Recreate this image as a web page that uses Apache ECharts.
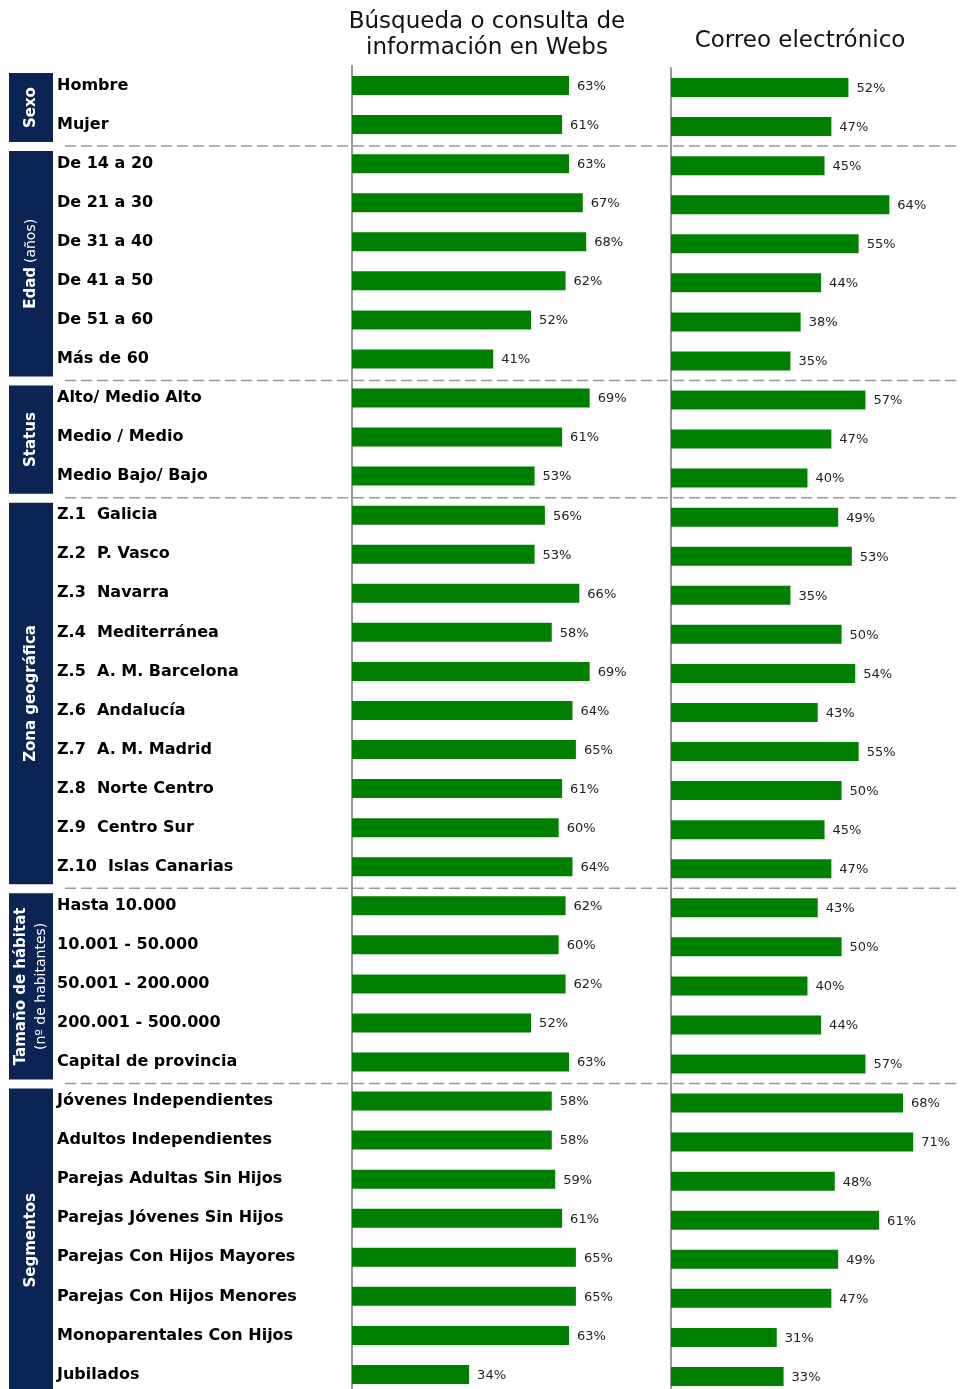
<!DOCTYPE html>
<html>
<head>
<meta charset="utf-8">
<title>Búsqueda y correo</title>
<script src="https://cdn.jsdelivr.net/npm/echarts@6/dist/echarts.min.js"></script>
<style>
  html, body { margin: 0; padding: 0; background: #fff; }
  #main { width: 961px; height: 1389px; }
</style>
</head>
<body>
<div id="main"></div>
<script>
// categorias (de arriba a abajo)
var categories = [
  'Hombre', 'Mujer',
  'De 14 a 20', 'De 21 a 30', 'De 31 a 40', 'De 41 a 50', 'De 51 a 60', 'Más de 60',
  'Alto/ Medio Alto', 'Medio / Medio', 'Medio Bajo/ Bajo',
  'Z.1  Galicia', 'Z.2  P. Vasco', 'Z.3  Navarra', 'Z.4  Mediterránea', 'Z.5  A. M. Barcelona',
  'Z.6  Andalucía', 'Z.7  A. M. Madrid', 'Z.8  Norte Centro', 'Z.9  Centro Sur', 'Z.10  Islas Canarias',
  'Hasta 10.000', '10.001 - 50.000', '50.001 - 200.000', '200.001 - 500.000', 'Capital de provincia',
  'Jóvenes Independientes', 'Adultos Independientes', 'Parejas Adultas Sin Hijos', 'Parejas Jóvenes Sin Hijos',
  'Parejas Con Hijos Mayores', 'Parejas Con Hijos Menores', 'Monoparentales Con Hijos', 'Jubilados'
];

var busqueda = [63, 61, 63, 67, 68, 62, 52, 41, 69, 61, 53, 56, 53, 66, 58, 69, 64, 65, 61, 60, 64,
                62, 60, 62, 52, 63, 58, 58, 59, 61, 65, 65, 63, 34];
var correo = [52, 47, 45, 64, 55, 44, 38, 35, 57, 47, 40, 49, 53, 35, 50, 54, 43, 55, 50, 45, 47,
              43, 50, 40, 44, 57, 68, 71, 48, 61, 49, 47, 31, 33];

// grupos: nombre (texto rico) y numero de filas
var groupNames = ['{b|Sexo}', '{b|Edad} {n|(años)}', '{b|Status}', '{b|Zona geográfica}',
                  '{b|Tamaño de hábitat}\n{n|(nº de habitantes)}', '{b|Segmentos}'];
var groupSizes = [2, 6, 3, 10, 5, 8];

var titles = ['Búsqueda o consulta de\ninformación en Webs', 'Correo electrónico'];

var myChart = echarts.init(document.getElementById('main'));

var labelStyle = {
  show: true,
  position: 'right',
  distance: 8,
  offset: [0, 1],
  formatter: '{c}%',
  color: '#222',
  fontFamily: 'DejaVu Sans',
  fontSize: 13
};

var titleText = { fontFamily: 'DejaVu Sans', fontSize: 23, fontWeight: 'normal', color: '#111', lineHeight: 26 };

option = {
  backgroundColor: '#fff',
  animation: false,
  title: [
    { text: titles[0], left: 487, top: 9, padding: 0, textAlign: 'center', textStyle: titleText },
    { text: titles[1], left: 800, top: 28, padding: 0, textAlign: 'center', textStyle: titleText }
  ],
  grid: [
    { left: 352, top: 66, width: 310, height: 1328, outerBoundsMode: 'none' },
    { left: 671, top: 68, width: 290, height: 1328, outerBoundsMode: 'none' }
  ],
  xAxis: [
    { gridIndex: 0, type: 'value', min: 0, max: 90, show: false },
    { gridIndex: 1, type: 'value', min: 0, max: 85, show: false }
  ],
  yAxis: [
    {
      gridIndex: 0, type: 'category', data: categories, inverse: true,
      axisLine: { lineStyle: { color: '#999', width: 2 } },
      axisTick: { show: false },
      axisLabel: {
        align: 'left', margin: 295, color: '#000', padding: [4, 0, 0, 0],
        fontFamily: 'DejaVu Sans', fontWeight: 'bold', fontSize: 16
      }
    },
    {
      gridIndex: 1, type: 'category', data: categories, inverse: true,
      axisLine: { lineStyle: { color: '#999', width: 2 } },
      axisTick: { show: false },
      axisLabel: { show: false }
    }
  ],
  series: [
    {
      name: 'Búsqueda', type: 'bar', xAxisIndex: 0, yAxisIndex: 0,
      data: busqueda, barWidth: 19,
      itemStyle: { color: '#008000' },
      label: labelStyle
    },
    {
      name: 'Correo', type: 'bar', xAxisIndex: 1, yAxisIndex: 1,
      data: correo, barWidth: 19,
      itemStyle: { color: '#008000' },
      label: labelStyle
    }
  ]
};
myChart.setOption(option);

// bloques de grupo y separadores, a partir de la escala del eje
var centers = categories.map(function (c) {
  return myChart.convertToPixel({ yAxisIndex: 0 }, c);
});
var step = centers[1] - centers[0];
var graphics = [];
var start = 0;
groupSizes.forEach(function (n, g) {
  var top = centers[start] - step / 2;
  var bottom = centers[start + n - 1] + step / 2;
  if (start > 0) {
    graphics.push({
      type: 'line', silent: true,
      shape: { x1: 65, y1: top + 2, x2: 961, y2: top + 2 },
      style: { stroke: '#9a9a9a', lineWidth: 1.5, lineDash: [11, 5] }
    });
  }
  var y0 = top + 7;
  var y1 = bottom - 2;
  graphics.push({
    type: 'rect', silent: true,
    shape: { x: 9, y: y0, width: 44, height: y1 - y0 },
    style: { fill: '#0b2454' }
  });
  graphics.push({
    type: 'text', silent: true,
    x: 31, y: (y0 + y1) / 2, rotation: Math.PI / 2,
    style: {
      text: groupNames[g], align: 'center', verticalAlign: 'middle',
      fill: '#fff', fontFamily: 'DejaVu Sans',
      rich: {
        b: { fill: '#fff', fontWeight: 'bold', fontSize: 15, fontFamily: 'DejaVu Sans', lineHeight: 20 },
        n: { fill: '#fff', fontWeight: 'normal', fontSize: 14, fontFamily: 'DejaVu Sans', lineHeight: 20 }
      }
    }
  });
  start += n;
});
myChart.setOption({ graphic: graphics });
</script>
</body>
</html>
